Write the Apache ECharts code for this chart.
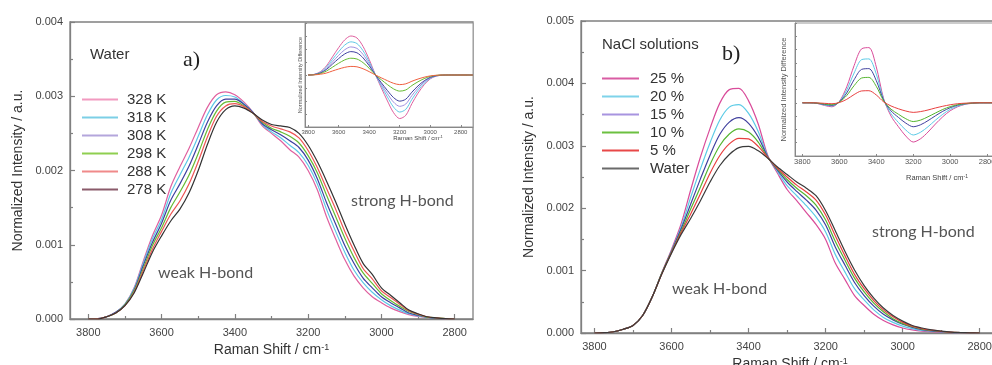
<!DOCTYPE html>
<html>
<head>
<meta charset="utf-8">
<script src="https://cdn.jsdelivr.net/npm/echarts@6/dist/echarts.min.js"></script>
<style>
  html, body { margin: 0; padding: 0; background: #fff; }
  #chart { width: 992px; height: 365px; }
</style>
</head>
<body>
<div id="chart"></div>
<script>
// Raman shift grid (cm^-1) for the OH stretching band
const wavenumber = [3800,3775,3750,3725,3700,3675,3650,3625,3600,3575,3550,3525,3500,3475,3450,3425,3400,3375,3350,3325,3300,3275,3250,3225,3200,3175,3150,3125,3100,3075,3050,3025,3000,2975,2950,2925,2900,2875,2850,2825,2800];
const insetWavenumber = [3800,3760,3720,3680,3640,3600,3560,3520,3480,3440,3400,3360,3320,3280,3240,3200,3160,3120,3080,3040,3000,2960,2920,2880,2840,2800,2760,2720];
const shiftTicks = [3800,3600,3400,3200,3000,2800];
const shiftMinorTicks = [3700,3500,3300,3100,2900];

// a) pure water at different temperatures, normalized intensity in units of 1e-3
const tempLabels = ['328 K','318 K','308 K','298 K','288 K','278 K'];
const w328 = [0,0.005,0.03,0.09,0.20,0.42,0.78,1.12,1.40,1.78,2.05,2.30,2.58,2.85,3.02,3.06,3.02,2.92,2.78,2.60,2.50,2.40,2.28,2.18,2.00,1.74,1.38,1.08,0.80,0.58,0.42,0.30,0.22,0.15,0.10,0.06,0.035,0.02,0.01,0.003,0];
const w318 = [0,0.004,0.03,0.09,0.20,0.41,0.75,1.08,1.34,1.69,1.94,2.18,2.46,2.75,2.95,3.01,2.99,2.90,2.78,2.62,2.52,2.44,2.34,2.24,2.07,1.82,1.48,1.18,0.90,0.66,0.49,0.36,0.26,0.18,0.12,0.07,0.04,0.02,0.01,0.004,0];
const w308 = [0,0.003,0.03,0.09,0.19,0.39,0.72,1.03,1.29,1.60,1.82,2.06,2.35,2.65,2.87,2.96,2.96,2.89,2.78,2.63,2.55,2.48,2.40,2.31,2.14,1.89,1.57,1.28,0.99,0.75,0.55,0.42,0.30,0.22,0.15,0.08,0.05,0.025,0.01,0.004,0];
const w298 = [0,0.002,0.03,0.08,0.19,0.38,0.68,0.99,1.23,1.50,1.71,1.94,2.23,2.55,2.80,2.92,2.93,2.87,2.77,2.65,2.57,2.52,2.46,2.37,2.20,1.97,1.67,1.38,1.09,0.83,0.62,0.48,0.34,0.25,0.17,0.10,0.06,0.025,0.015,0.005,0];
const w288 = [0,0.001,0.03,0.08,0.18,0.36,0.65,0.94,1.18,1.41,1.59,1.82,2.12,2.45,2.73,2.87,2.90,2.86,2.77,2.66,2.60,2.56,2.52,2.44,2.27,2.04,1.76,1.48,1.18,0.92,0.68,0.54,0.38,0.29,0.20,0.11,0.065,0.03,0.015,0.005,0];
const w278 = [0,0,0.03,0.08,0.18,0.35,0.62,0.90,1.12,1.32,1.48,1.70,2.00,2.35,2.65,2.82,2.87,2.84,2.77,2.68,2.62,2.60,2.58,2.50,2.34,2.12,1.86,1.58,1.28,1.00,0.75,0.60,0.42,0.32,0.22,0.12,0.07,0.03,0.015,0.005,0];

// b) NaCl solutions, normalized intensity in units of 1e-3
const saltLabels = ['25 %','20 %','15 %','10 %','5 %','Water'];
const s25 = [0,0.005,0.02,0.06,0.12,0.28,0.58,0.97,1.34,1.75,2.30,2.82,3.28,3.68,3.90,3.92,3.72,3.35,2.84,2.56,2.30,2.12,1.93,1.74,1.50,1.12,0.86,0.60,0.44,0.30,0.20,0.13,0.08,0.05,0.03,0.02,0.012,0.007,0.004,0.002,0];
const s20 = [0,0.005,0.02,0.06,0.12,0.28,0.58,0.96,1.32,1.70,2.18,2.63,3.05,3.41,3.62,3.66,3.52,3.23,2.83,2.59,2.36,2.20,2.04,1.86,1.62,1.26,0.98,0.71,0.53,0.37,0.25,0.17,0.11,0.07,0.04,0.03,0.017,0.009,0.005,0.003,0];
const s15 = [0,0.005,0.02,0.06,0.12,0.28,0.58,0.96,1.31,1.67,2.07,2.47,2.85,3.18,3.38,3.45,3.36,3.14,2.82,2.61,2.42,2.27,2.13,1.97,1.73,1.38,1.09,0.81,0.60,0.43,0.30,0.21,0.14,0.09,0.055,0.035,0.021,0.011,0.006,0.003,0];
const s10 = [0,0.005,0.02,0.06,0.12,0.28,0.58,0.96,1.30,1.63,1.99,2.34,2.70,3.00,3.19,3.27,3.22,3.06,2.81,2.63,2.46,2.32,2.20,2.05,1.81,1.47,1.17,0.88,0.66,0.48,0.34,0.23,0.15,0.10,0.06,0.04,0.024,0.012,0.007,0.003,0];
const s5 = [0,0.005,0.02,0.06,0.12,0.28,0.58,0.95,1.29,1.61,1.91,2.23,2.56,2.84,3.03,3.12,3.11,2.99,2.81,2.64,2.50,2.37,2.26,2.13,1.89,1.56,1.24,0.94,0.71,0.52,0.37,0.26,0.17,0.11,0.07,0.045,0.027,0.014,0.007,0.003,0];
const sWater = [0,0.005,0.02,0.06,0.12,0.28,0.58,0.95,1.28,1.58,1.84,2.12,2.42,2.68,2.86,2.97,2.99,2.92,2.80,2.66,2.54,2.42,2.32,2.20,1.96,1.64,1.31,1.01,0.76,0.56,0.40,0.28,0.19,0.12,0.08,0.05,0.03,0.015,0.008,0.003,0];

// Inset difference spectra, units of 1e-4
const dTa = [0,0.05,0.25,0.7,1.4,2.1,2.7,3.0,2.85,2.2,1.2,0.05,-1.0,-2.0,-2.9,-3.35,-3.1,-2.2,-1.4,-0.75,-0.3,-0.08,-0.02,0,0,0,0,0];
const dTb = [0,0.04,0.21,0.6,1.19,1.79,2.3,2.55,2.42,1.87,1.02,0.04,-0.85,-1.7,-2.47,-2.85,-2.64,-1.87,-1.19,-0.64,-0.26,-0.07,-0.02,0,0,0,0,0];
const dTc = [0,0.04,0.18,0.5,1.01,1.51,1.94,2.16,2.05,1.58,0.86,0.04,-0.72,-1.44,-2.09,-2.41,-2.23,-1.58,-1.01,-0.54,-0.22,-0.06,-0.01,0,0,0,0,0];
const dTd = [0,0.03,0.15,0.42,0.84,1.26,1.62,1.8,1.71,1.32,0.72,0.03,-0.6,-1.2,-1.74,-2.01,-1.86,-1.32,-0.84,-0.45,-0.18,-0.05,-0.01,0,0,0,0,0];
const dTe = [0,0.02,0.11,0.3,0.6,0.9,1.16,1.29,1.23,0.95,0.52,0.02,-0.37,-0.74,-1.07,-1.24,-1.15,-0.81,-0.52,-0.28,-0.11,-0.03,0,0,0,0,0,0];
const dTf = [0,0.01,0.06,0.15,0.31,0.46,0.59,0.66,0.63,0.48,0.26,0.01,-0.22,-0.44,-0.64,-0.74,-0.68,-0.48,-0.31,-0.17,-0.07,-0.02,0,0,0,0,0,0];

const dS25 = [0,0,-0.05,-0.2,-0.3,0.1,1.2,2.8,4.05,4.15,2.7,0.3,-1.0,-1.8,-2.5,-2.95,-2.7,-2.2,-1.6,-1.05,-0.6,-0.3,-0.12,-0.04,0,0,0,0];
const dS20 = [0,0,-0.04,-0.16,-0.24,0.08,0.96,2.24,3.24,3.3,2.16,0.24,-0.82,-1.48,-2.05,-2.42,-2.21,-1.8,-1.31,-0.86,-0.49,-0.25,-0.1,-0.03,0,0,0,0];
const dS15 = [0,0,-0.03,-0.12,-0.19,0.06,0.74,1.74,2.51,2.57,1.67,0.19,-0.61,-1.1,-1.53,-1.8,-1.65,-1.34,-0.98,-0.64,-0.37,-0.18,-0.07,-0.02,0,0,0,0];
const dS10 = [0,0,-0.02,-0.09,-0.14,0.05,0.55,1.29,1.86,1.91,1.24,0.14,-0.48,-0.86,-1.2,-1.41,-1.3,-1.05,-0.77,-0.5,-0.29,-0.14,-0.06,-0.02,0,0,0,0];
const dS5 = [0,0,-0.01,-0.04,-0.07,0.02,0.26,0.62,0.89,0.91,0.59,0.07,-0.24,-0.45,-0.62,-0.72,-0.66,-0.54,-0.39,-0.26,-0.15,-0.07,-0.03,-0.01,0,0,0,0];

const UNIT = 1e-3, DIFF_UNIT = 1e-4;
const pairs = (xs, ys, unit) => xs.map((x, i) => [x, +(ys[i] * unit).toPrecision(6)]);

// styling
const SANS = 'Liberation Sans';
const axisGray = '#808080';
const tempCurves = [w328, w318, w308, w298, w288, w278];
const tempColors = ['#e0609f', '#5cc8e6', '#3e3fa0', '#66bb33', '#ee5555', '#333333'];
const tempKeyColors = ['#f29ac0', '#7ccfe6', '#b4a6dc', '#8fcf50', '#f08a8a', '#8a5a6a'];
const saltCurves = [s25, s20, s15, s10, s5, sWater];
const saltColors = ['#d94c9a', '#5ccbe6', '#40409e', '#55b530', '#e84040', '#3a3a3a'];
const saltKeyColors = ['#d95ca3', '#7fd3ea', '#a894e0', '#6cc040', '#e84848', '#6a6a6a'];
const tempDiffs = [dTa, dTb, dTc, dTd, dTe, dTf];
const tempDiffColors = ['#e0609f', '#60c8e6', '#a090e0', '#3e3fa0', '#66bb33', '#f06040'];
const saltDiffs = [dS25, dS20, dS15, dS10, dS5];
const saltDiffColors = ['#d94c9a', '#5ccbe6', '#40409e', '#55b530', '#e84040'];

const plain = v => String(v);
const shiftName = 'Raman Shift / cm{sup|-1}';
const nameStyle = (size, sup) => ({
  fontSize: size, color: '#333', fontFamily: SANS,
  rich: { sup: { fontSize: sup, color: '#333', fontFamily: SANS, verticalAlign: 'top' } }
});

function mainX(grid, min, max, gap) {
  return {
    type: 'value', gridIndex: grid, min, max, inverse: true, position: 'bottom',
    axisLine: { onZero: false, lineStyle: { color: axisGray, width: 1.3 } },
    axisTick: { inside: true, length: 5, customValues: shiftTicks, lineStyle: { color: axisGray, width: 1.2 } },
    axisLabel: { customValues: shiftTicks, formatter: plain, fontSize: 11, color: '#444', margin: 8, fontFamily: SANS },
    splitLine: { show: false },
    name: shiftName, nameLocation: 'middle', nameGap: gap, nameTextStyle: nameStyle(14, 9)
  };
}
function minorX(grid, min, max) {
  return {
    type: 'value', gridIndex: grid, min, max, inverse: true, position: 'bottom', offset: 0,
    axisLine: { show: false, onZero: false },
    axisTick: { inside: true, length: 3, customValues: shiftMinorTicks, lineStyle: { color: axisGray, width: 1.2 } },
    axisLabel: { show: false }, splitLine: { show: false }
  };
}
function mainY(grid, max) {
  return {
    type: 'value', gridIndex: grid, min: 0, max, interval: 0.001,
    axisLine: { show: true, lineStyle: { color: axisGray, width: 1.3 } },
    axisTick: { show: true, inside: true, length: 5, lineStyle: { color: axisGray, width: 1.2 } },
    minorTick: { show: true, splitNumber: 2, length: 3, lineStyle: { color: axisGray, width: 1.2 } },
    axisLabel: { formatter: v => v.toFixed(3), fontSize: 11, color: '#444', margin: 7, fontFamily: SANS },
    splitLine: { show: false },
    name: 'Normalized Intensity / a.u.', nameLocation: 'middle', nameGap: 45,
    nameTextStyle: { fontSize: 14, color: '#333', fontFamily: SANS }
  };
}
function insetX(grid, min, max, font) {
  return {
    type: 'value', gridIndex: grid, min, max, inverse: true, position: 'bottom',
    axisLine: { onZero: false, lineStyle: { color: '#888', width: 1 } },
    axisTick: { inside: true, length: 2, customValues: shiftTicks, lineStyle: { color: '#888' } },
    axisLabel: { customValues: shiftTicks, formatter: plain, fontSize: font, color: '#555', margin: 2, fontFamily: SANS },
    splitLine: { show: false }
  };
}
function insetY(grid, min, max, font, gap) {
  return {
    type: 'value', gridIndex: grid, min, max, interval: 0.0001,
    axisLine: { show: true, lineStyle: { color: '#888', width: 1 } },
    axisTick: { show: true, inside: true, length: 2, lineStyle: { color: '#888' } },
    axisLabel: { show: false }, splitLine: { show: false },
    name: 'Normalized Intensity Difference', nameLocation: 'middle', nameGap: gap,
    nameTextStyle: { fontSize: font, color: '#555', fontFamily: SANS }
  };
}

const series = [];
const line = (name, xi, yi, data, color, width) => ({
  type: 'line', name, xAxisIndex: xi, yAxisIndex: yi, data,
  symbol: 'none', smooth: 0.3, silent: true,
  lineStyle: { color, width }, itemStyle: { color }
});
tempLabels.forEach((n, i) => series.push(line(n, 0, 0, pairs(wavenumber, tempCurves[i], UNIT), tempColors[i], 1.2)));
tempDiffs.forEach((d, i) => series.push(line('a-diff-' + i, 2, 1, pairs(insetWavenumber, d, DIFF_UNIT), tempDiffColors[i], 1)));
saltLabels.forEach((n, i) => series.push(line(n, 3, 2, pairs(wavenumber, saltCurves[i], UNIT), saltColors[i], 1.2)));
saltDiffs.forEach((d, i) => series.push(line('b-diff-' + i, 5, 3, pairs(insetWavenumber, d, DIFF_UNIT), saltDiffColors[i], 1)));

const legendBase = {
  orient: 'vertical', icon: 'rect', itemHeight: 2, itemGap: 3, selectedMode: false, padding: 0,
  textStyle: { fontSize: 15, lineHeight: 15, color: '#333', fontFamily: SANS }
};

const textEl = (x, y, text, font, fill, align) => ({
  type: 'text', x, y, silent: true,
  style: { text, font, fill, align: align || 'left', verticalAlign: 'middle' }
});
const richTitle = (x, y, size, sup) => ({
  type: 'text', x, y, silent: true,
  style: {
    text: 'Raman Shift / cm{sup|-1}', fontSize: size, fontFamily: SANS, fill: '#444',
    align: 'center', verticalAlign: 'middle',
    rich: { sup: { fontSize: sup, fontFamily: SANS, fill: '#444', verticalAlign: 'top' } }
  }
});

const gridBase = { outerBoundsMode: 'none', containLabel: false, show: true };

const option = {
  animation: false,
  backgroundColor: '#fff',
  grid: [
    Object.assign({ left: 70, top: 22, width: 403, height: 297, borderColor: axisGray, borderWidth: 1.3 }, gridBase),
    Object.assign({ left: 305, top: 23, width: 168, height: 104, backgroundColor: '#fff', borderColor: '#999', borderWidth: 1 }, gridBase),
    Object.assign({ left: 581, top: 21, width: 418, height: 312, borderColor: axisGray, borderWidth: 1.3 }, gridBase),
    Object.assign({ left: 795, top: 23, width: 266, height: 133, backgroundColor: '#fff', borderColor: '#999', borderWidth: 1 }, gridBase)
  ],
  xAxis: [
    mainX(0, 2750, 3850, 16),
    minorX(0, 2750, 3850),
    insetX(1, 2720, 3820, 6),
    mainX(2, 2750, 3835, 20),
    minorX(2, 2750, 3835),
    insetX(3, 2400, 3840, 7.5)
  ],
  yAxis: [
    mainY(0, 0.004),
    insetY(1, -0.0004, 0.0004, 5.5, 2),
    mainY(2, 0.005),
    insetY(3, -0.0004, 0.0006, 7.5, 7)
  ],
  legend: [
    Object.assign({}, legendBase, {
      left: 82, top: 92, itemWidth: 36,
      data: tempLabels.map((n, i) => ({ name: n, itemStyle: { color: tempKeyColors[i] } })),
      textStyle: Object.assign({}, legendBase.textStyle, { padding: [0, 0, 0, 4] })
    }),
    Object.assign({}, legendBase, {
      left: 602, top: 71, itemWidth: 37,
      data: saltLabels.map((n, i) => ({ name: n, itemStyle: { color: saltKeyColors[i] } })),
      textStyle: Object.assign({}, legendBase.textStyle, { padding: [0, 0, 0, 6] })
    })
  ],
  graphic: [
    textEl(90, 55, 'Water', '15px "Liberation Sans"', '#333'),
    textEl(183, 60, 'a)', '22px "Liberation Serif"', '#222'),
    textEl(602, 45, 'NaCl solutions', '15px "Liberation Sans"', '#333'),
    textEl(722, 54, 'b)', '22px "Liberation Serif"', '#222'),
    textEl(158, 273, 'weak H-bond', '16px Lato', '#555'),
    textEl(351, 201, 'strong H-bond', '16px Lato', '#555'),
    textEl(672, 289, 'weak H-bond', '16px Lato', '#555'),
    textEl(872, 232, 'strong H-bond', '16px Lato', '#555'),
    richTitle(418, 138, 6, 4),
    richTitle(937, 178, 7.5, 5)
  ],
  series
};

const chart = echarts.init(document.getElementById('chart'), null, { renderer: 'canvas' });
chart.setOption(option);
</script>
</body>
</html>
